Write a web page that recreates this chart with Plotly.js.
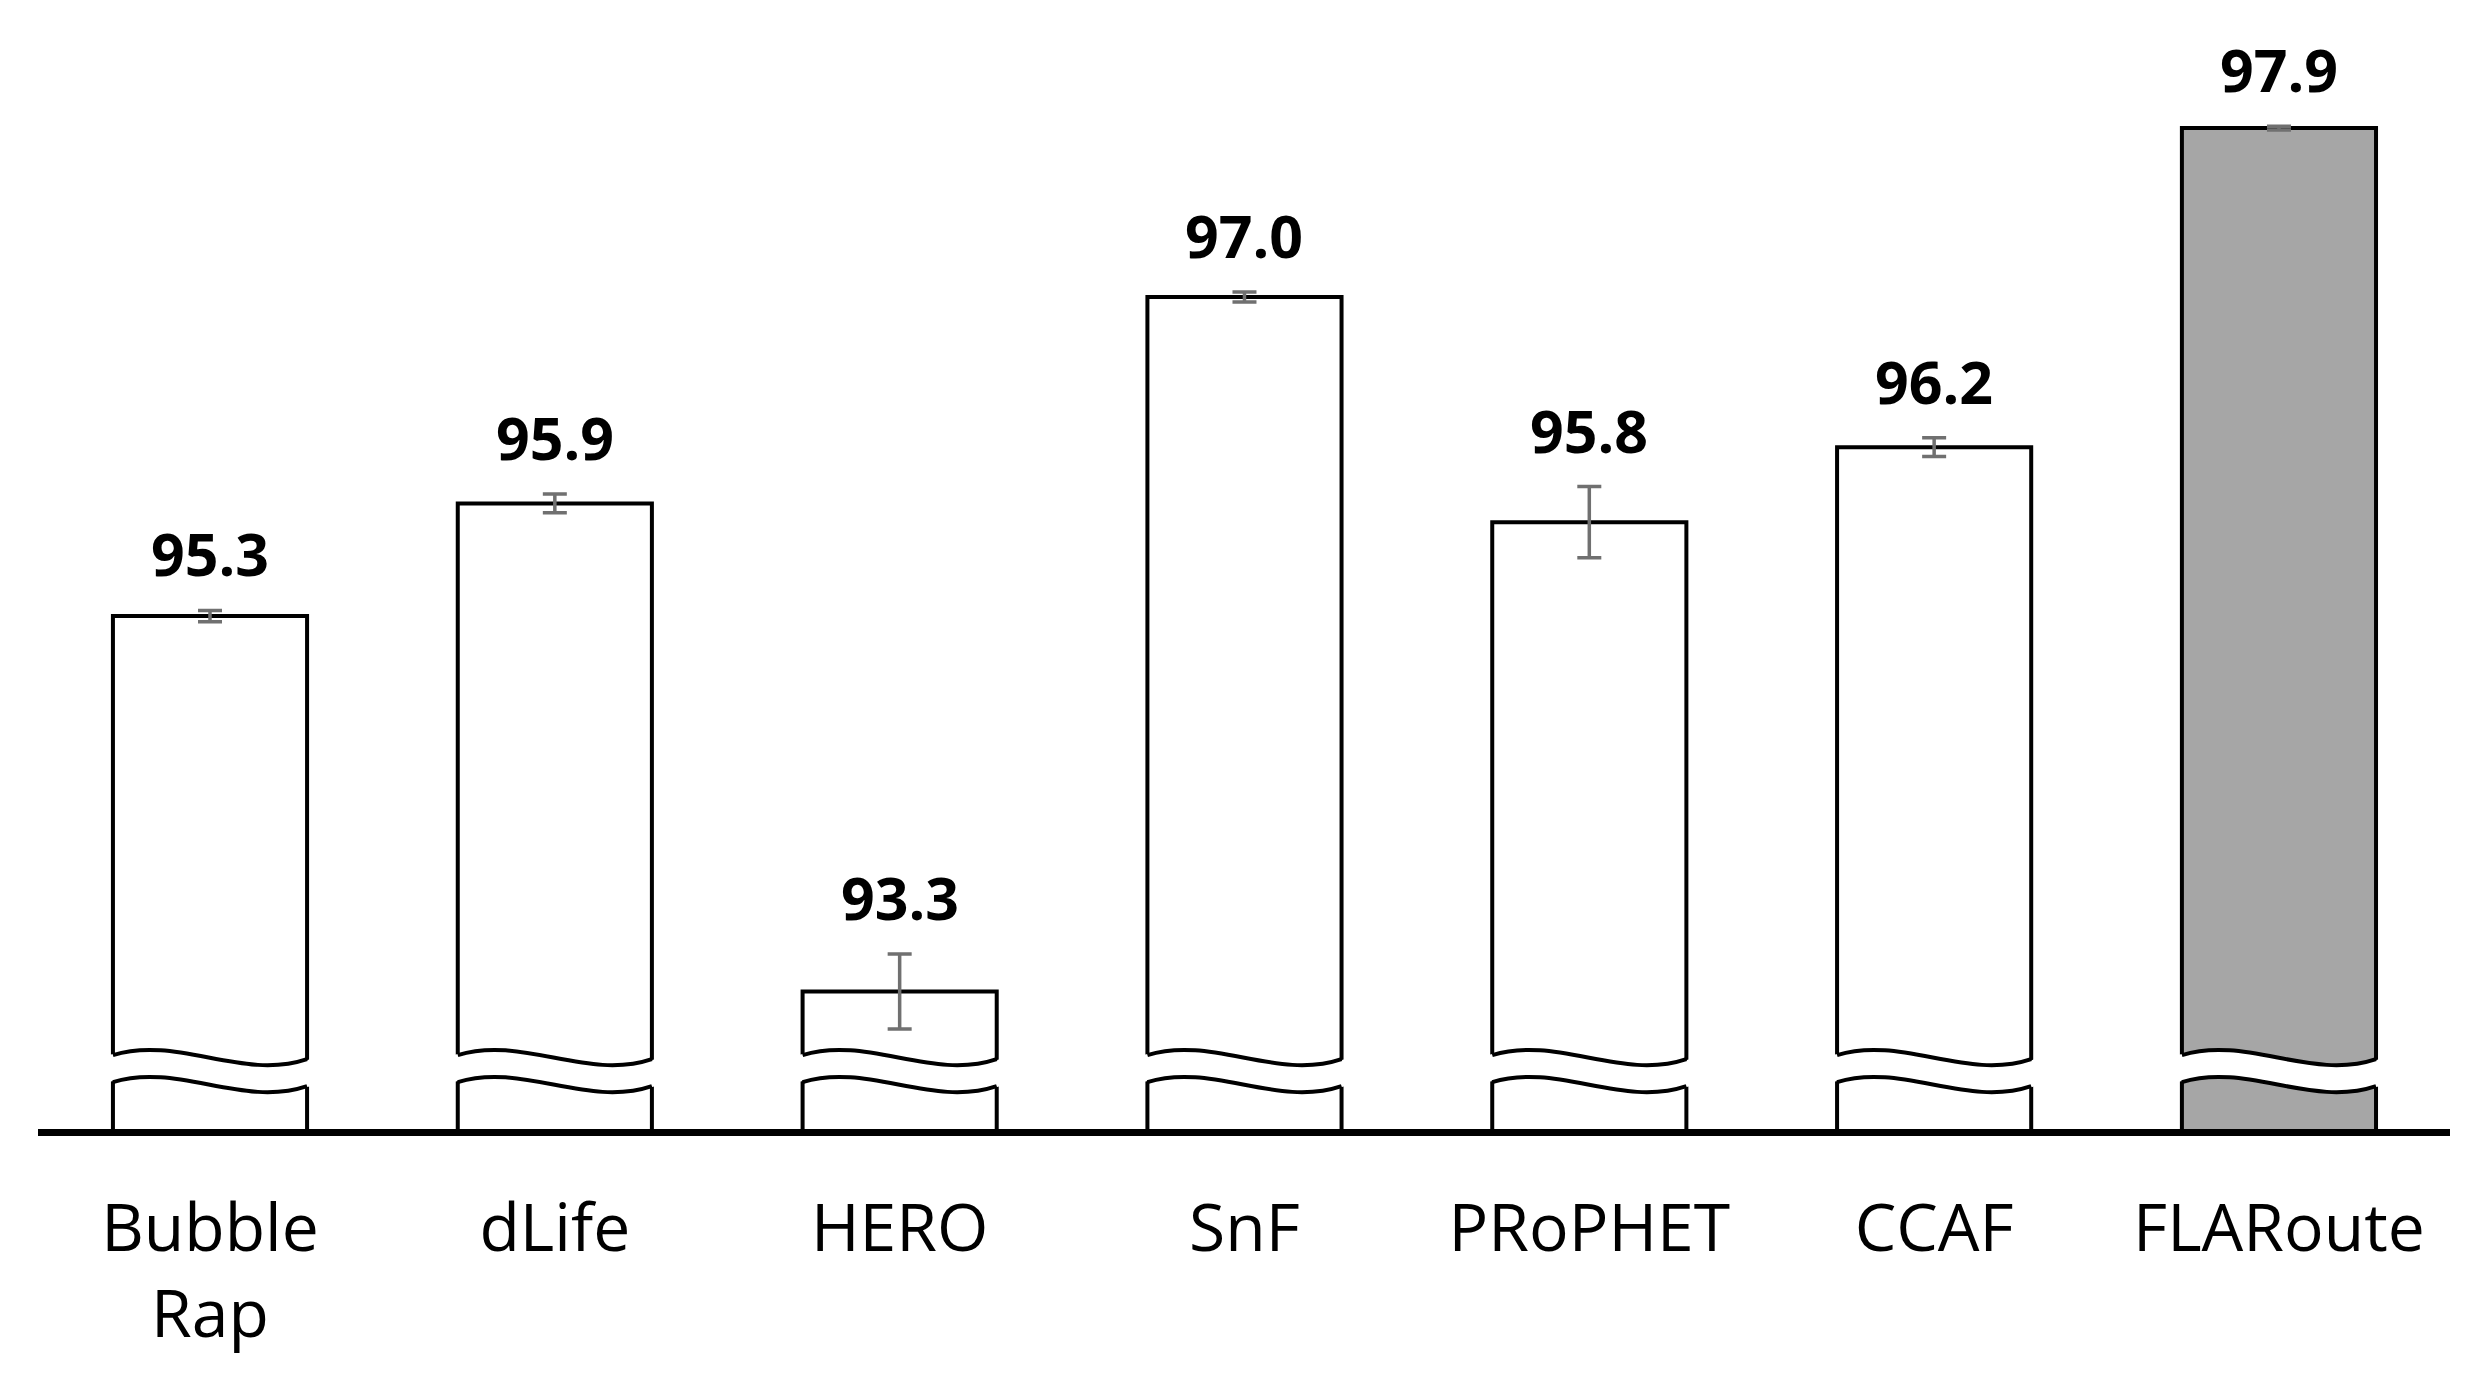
<!DOCTYPE html>
<html>
<head>
<meta charset="utf-8">
<script src="https://cdn.plot.ly/plotly-3.0.1.min.js"></script>
<style>html,body{margin:0;padding:0;background:#fff}</style>
</head>
<body>
<div id="main" style="width:2475px;height:1384px"></div>
<script>
// delivery ratio per routing scheme
const methods = ['Bubble<br>Rap', 'dLife', 'HERO', 'SnF', 'PRoPHET', 'CCAF', 'FLARoute']
const ratio = [95.3, 95.9, 93.3, 97.0, 95.8, 96.2, 97.9]
const spread = [0.03, 0.05, 0.2, 0.027, 0.19, 0.05, 0.01]
const fills = ['#ffffff', '#ffffff', '#ffffff', '#ffffff', '#ffffff', '#ffffff', '#a6a6a6']

const yMin = 92.567
const yMax = 98.3
const breakAt = 92.889   // where the axis break is drawn
const barWidth = 0.563
const idx = methods.map((m, i) => i)

const bars = {
  x: idx,
  y: ratio,
  type: 'bar',
  width: barWidth,
  marker: { color: fills, line: { color: '#000', width: 4 } },
  error_y: { type: 'data', array: spread, visible: true, color: '#707070', thickness: 3.5, width: 12 },
  hoverinfo: 'y',
}

// labels sit just above the error bar caps
const labels = idx.map(i => ({
  x: i,
  y: ratio[i] + spread[i],
  text: ratio[i].toFixed(1),
  showarrow: false,
  yanchor: 'bottom',
  yshift: 16,
  borderpad: 0,
  font: { family: 'Open Sans', size: 59, color: '#000', weight: 'bold' },
}))

// wavy break: white mask plus two wave outlines per bar (y in px around breakAt)
const breaks = []
idx.forEach(i => {
  const L = i - barWidth / 2
  const R = i + barWidth / 2
  const c1 = L + barWidth / 3
  const c2 = L + 2 * barWidth / 3
  const Lm = L - 0.012
  const Rm = R + 0.012
  const common = { type: 'path', xref: 'x', yref: 'y', ysizemode: 'pixel', yanchor: breakAt, layer: 'above' }
  breaks.push(Object.assign({}, common, {
    path: `M${Lm},13.5 C${c1},33.5 ${c2},-12.5 ${Rm},9.5 L${Rm},-17.5 C${c2},-39.5 ${c1},6.5 ${Lm},-13.5 Z`,
    fillcolor: '#ffffff',
    line: { width: 0 },
  }))
  breaks.push(Object.assign({}, common, {
    path: `M${L},13.5 C${c1},33.5 ${c2},-12.5 ${R},9.5`,
    fillcolor: 'rgba(0,0,0,0)',
    line: { color: '#000', width: 4 },
  }))
  breaks.push(Object.assign({}, common, {
    path: `M${L},-13.5 C${c1},6.5 ${c2},-39.5 ${R},-17.5`,
    fillcolor: 'rgba(0,0,0,0)',
    line: { color: '#000', width: 4 },
  }))
})

Plotly.newPlot('main', [bars], {
  width: 2475,
  height: 1384,
  margin: { l: 38, r: 25, t: 53, b: 255 },
  paper_bgcolor: '#fff',
  plot_bgcolor: '#fff',
  showlegend: false,
  xaxis: {
    range: [-0.4988, 6.496],
    tickvals: idx,
    ticktext: methods,
    ticks: '',
    showgrid: false,
    zeroline: false,
    showline: true,
    linecolor: '#000',
    linewidth: 7,
    ticklabelstandoff: 36,
    automargin: false,
    tickfont: { family: 'Open Sans', size: 66, color: '#000' },
  },
  yaxis: {
    range: [yMin, yMax],
    visible: false,
    showgrid: false,
    zeroline: false,
  },
  annotations: labels,
  shapes: breaks,
}, { displayModeBar: false })
</script>
</body>
</html>
